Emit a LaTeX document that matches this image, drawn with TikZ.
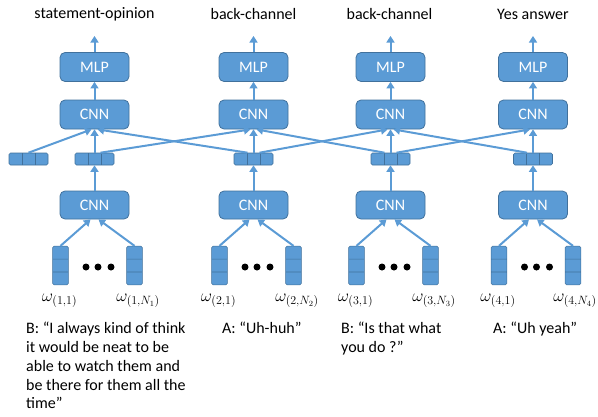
\documentclass[tikz,border=0pt]{standalone}
\usepackage{fontspec}
\setmainfont{Carlito}
\usetikzlibrary{arrows.meta,shapes.multipart}
\definecolor{boxblue}{HTML}{5B9BD5}
\definecolor{boxedge}{HTML}{41719C}
\tikzset{
  tag/.style={font=\fontsize{16}{18.8}\selectfont},
  unit/.style={tag, draw=boxedge, fill=boxblue, line width=0.8pt, rounded corners=5pt,
    minimum width=69pt, minimum height=29pt, text=white, inner sep=0pt},
  wordvec/.style={rectangle split, rectangle split parts=3, draw=boxedge, fill=boxblue,
    line width=0.6pt, rounded corners=1.5pt, inner sep=0pt,
    rectangle split empty part width=11pt, rectangle split empty part height=12.3pt,
    rectangle split empty part depth=0pt},
  sentvec/.style={draw=boxedge, fill=boxblue, line width=0.6pt, rounded corners=1.5pt,
    inner sep=0pt, minimum width=39pt, minimum height=12pt,
    path picture={
      \draw[boxedge, line width=0.6pt]
        ([xshift=13pt]path picture bounding box.south west) -- ([xshift=13pt]path picture bounding box.north west)
        ([xshift=-13pt]path picture bounding box.south east) -- ([xshift=-13pt]path picture bounding box.north east);}},
  flow/.style={draw=boxblue, line width=2pt, -{Triangle[width=8pt,length=6.5pt]}},
  wlabel/.style={font=\fontsize{17}{19}\selectfont},
}
\begin{document}
\begin{tikzpicture}[x=1pt,y=-1pt]
\useasboundingbox (0,0) rectangle (598,416);
% dialogue act labels
\node[tag] (t1) at (94.5,14) {statement-opinion};
\node[tag] (t2) at (253.5,14) {back-channel};
\node[tag] (t3) at (389.5,14) {back-channel};
\node[tag] (t4) at (533,14) {Yes answer};
\coordinate (o1) at (94.5,36);
\coordinate (o2) at (253.5,36);
\coordinate (o3) at (390.5,36);
\coordinate (o4) at (533,36);
% classifiers
\node[unit] (m1) at (94.5,67) {MLP};
\node[unit] (m2) at (253.5,67) {MLP};
\node[unit] (m3) at (390.5,67) {MLP};
\node[unit] (m4) at (533,67) {MLP};
% context CNNs
\node[unit] (cu1) at (94.5,114.5) {CNN};
\node[unit] (cu2) at (253.5,114.5) {CNN};
\node[unit] (cu3) at (390.5,114.5) {CNN};
\node[unit] (cu4) at (533,114.5) {CNN};
% utterance vectors
\node[sentvec] (v0) at (28.5,159) {};
\node[sentvec] (v1) at (94.5,159) {};
\node[sentvec] (v2) at (253.5,159) {};
\node[sentvec] (v3) at (390.5,159) {};
\node[sentvec] (v4) at (533,159) {};
% utterance CNNs
\node[unit,minimum height=28pt] (cl1) at (94.5,205) {CNN};
\node[unit,minimum height=28pt] (cl2) at (253.5,205) {CNN};
\node[unit,minimum height=28pt] (cl3) at (390.5,205) {CNN};
\node[unit,minimum height=28pt] (cl4) at (533,205) {CNN};
% word vectors
\node[wordvec] (w1a) at (60.5,265.5) {};
\node[wordvec] (w1b) at (134.5,265.5) {};
\node[wordvec] (w2a) at (219.5,265.5) {};
\node[wordvec] (w2b) at (293.5,265.5) {};
\node[wordvec] (w3a) at (356.5,265.5) {};
\node[wordvec] (w3b) at (430.5,265.5) {};
\node[wordvec] (w4a) at (499,265.5) {};
\node[wordvec] (w4b) at (573,265.5) {};
\fill (86,267) circle (3.5); \fill (98,267) circle (3.5); \fill (111,267) circle (3.5);
\fill (245,267) circle (3.5); \fill (257,267) circle (3.5); \fill (270,267) circle (3.5);
\fill (382,267) circle (3.5); \fill (394,267) circle (3.5); \fill (407,267) circle (3.5);
\fill (524.5,267) circle (3.5); \fill (536.5,267) circle (3.5); \fill (549.5,267) circle (3.5);
\node[wlabel] (l1a) at (59.5,301) {$\omega_{(1,1)}$};
\node[wlabel] (l1b) at (138,301) {$\omega_{(1,N_1)}$};
\node[wlabel] (l2a) at (218.5,301) {$\omega_{(2,1)}$};
\node[wlabel] (l2b) at (297,301) {$\omega_{(2,N_2)}$};
\node[wlabel] (l3a) at (355.5,301) {$\omega_{(3,1)}$};
\node[wlabel] (l3b) at (434,301) {$\omega_{(3,N_3)}$};
\node[wlabel] (l4a) at (498,301) {$\omega_{(4,1)}$};
\node[wlabel] (l4b) at (575,301) {$\omega_{(4,N_4)}$};
% utterances
\node[tag,align=left,anchor=north west,inner sep=0pt] (s1) at (26,322)
  {B: “I always kind of think\\it would be neat to be\\able to watch them and\\be there for them all the\\time”};
\node[tag,align=left,anchor=north west,inner sep=0pt] (s2) at (222,322) {A: “Uh-huh”};
\node[tag,align=left,anchor=north west,inner sep=0pt] (s3) at (341,322) {B: “Is that what\\you do ?”};
\node[tag,align=left,anchor=north west,inner sep=0pt] (s4) at (493,322) {A: “Uh yeah”};
% arrows
\draw[flow] (m1.north) -- (o1);
\draw[flow] (m2.north) -- (o2);
\draw[flow] (m3.north) -- (o3);
\draw[flow] (m4.north) -- (o4);
\draw[flow] (cu1.north) -- (m1.south);
\draw[flow] (cu2.north) -- (m2.south);
\draw[flow] (cu3.north) -- (m3.south);
\draw[flow] (cu4.north) -- (m4.south);
\draw[flow] (v1.north) -- (cu1.south);
\draw[flow] (v2.north) -- (cu2.south);
\draw[flow] (v3.north) -- (cu3.south);
\draw[flow] (v4.north) -- (cu4.south);
\draw[flow] (v0.north) -- ([xshift=-3pt]cu1.south);
\draw[flow] ([xshift=6pt]v1.north) -- ([xshift=-3pt]cu2.south);
\draw[flow] ([xshift=-6pt]v2.north) -- ([xshift=3pt]cu1.south);
\draw[flow] ([xshift=6pt]v2.north) -- ([xshift=-3pt]cu3.south);
\draw[flow] ([xshift=-6pt]v3.north) -- ([xshift=3pt]cu2.south);
\draw[flow] ([xshift=6pt]v3.north) -- ([xshift=-3pt]cu4.south);
\draw[flow] ([xshift=-6pt]v4.north) -- ([xshift=3pt]cu3.south);
\draw[flow] (cl1.north) -- (v1.south);
\draw[flow] (cl2.north) -- (v2.south);
\draw[flow] (cl3.north) -- (v3.south);
\draw[flow] (cl4.north) -- (v4.south);
\draw[flow] (w1a.north) -- ([xshift=-4pt]cl1.south);
\draw[flow] (w1b.north) -- ([xshift=4pt]cl1.south);
\draw[flow] (w2a.north) -- ([xshift=-4pt]cl2.south);
\draw[flow] (w2b.north) -- ([xshift=4pt]cl2.south);
\draw[flow] (w3a.north) -- ([xshift=-4pt]cl3.south);
\draw[flow] (w3b.north) -- ([xshift=4pt]cl3.south);
\draw[flow] (w4a.north) -- ([xshift=-4pt]cl4.south);
\draw[flow] (w4b.north) -- ([xshift=4pt]cl4.south);
\end{tikzpicture}
\end{document}
